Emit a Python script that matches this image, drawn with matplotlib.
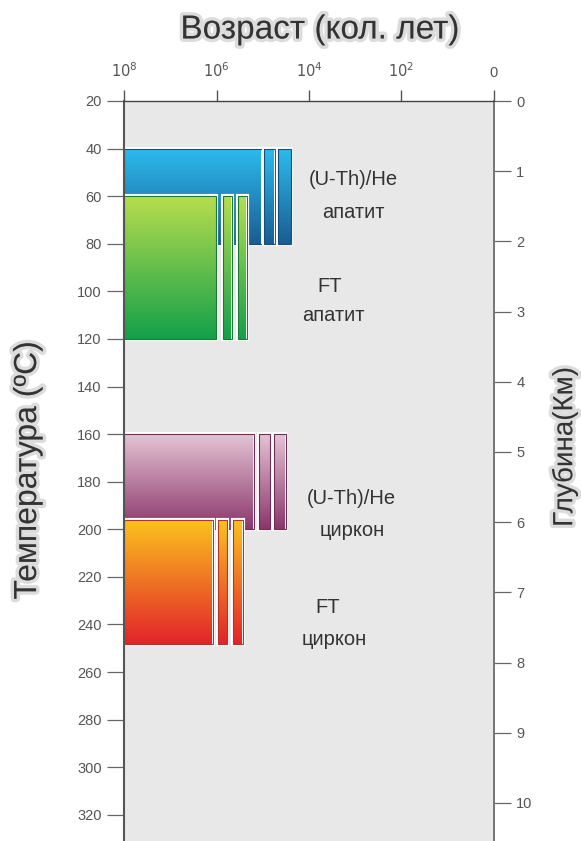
import numpy as np
import matplotlib
matplotlib.use("Agg")
import matplotlib.pyplot as plt
import matplotlib.patheffects as pe
from matplotlib.patches import Rectangle
from matplotlib.colors import LinearSegmentedColormap

# Temperature ranges (degC) of each closure window
temp_ranges = {
    "he_ap": (40, 80),
    "ft_ap": (60, 120),
    "he_zr": (160, 200),
    "ft_zr": (196, 248),
}

# Age ranges (years): main block + two narrow strips
age_ranges = {
    "he_ap": [(1e8, 1.05e5), (9.2e4, 5.4e4), (4.7e4, 2.45e4)],
    "ft_ap": [(1e8, 1.02e6), (7.2e5, 4.6e5), (3.4e5, 2.2e5)],
    "he_zr": [(1e8, 1.55e5), (1.2e5, 6.9e4), (5.75e4, 3.2e4)],
    "ft_zr": [(1e8, 1.2e6), (9.3e5, 5.9e5), (4.4e5, 2.7e5)],
}

# gradient colours top -> bottom
grad_colors = {
    "he_ap": ("#2cbbee", "#1a5d92"),
    "ft_ap": ("#b8dd4e", "#14a04a"),
    "he_zr": ("#e6c4d6", "#8a386a"),
    "ft_zr": ("#fcc21e", "#e2242a"),
}
edge_colors = {"he_ap": "#174f7c", "ft_ap": "#197a3a", "he_zr": "#6e2e55", "ft_zr": "#b0352a"}

# labels (text, age position, temperature)
labels = [
    ("(U-Th)/He", 1.1e3, 53), ("апатит", 1.1e3, 67),
    ("FT", 3.5e3, 98), ("апатит", 2.9e3, 110),
    ("(U-Th)/He", 1.2e3, 187), ("циркон", 1.15e3, 200.5),
    ("FT", 3.9e3, 233), ("циркон", 2.9e3, 246.5),
]

x_ticks = [1e8, 1e6, 1e4, 1e2, 1]
x_tick_labels = ["$10^8$", "$10^6$", "$10^4$", "$10^2$", "0"]
t_ticks = np.arange(20, 321, 20)
depth_ticks = np.arange(0, 11, 1)
surface_temp = 20.0
gradient = 29.5  # degC per km

plt.rcParams["font.family"] = ["Liberation Sans", "DejaVu Sans"]

fig = plt.figure(figsize=(5.81, 8.41), dpi=100)
ax = fig.add_axes([124 / 581, 0.0, 370 / 581, 1 - 101 / 841])
ax.set_facecolor("#e8e8e8")

ax.set_xscale("log")
ax.set_xlim(1e8, 1)
ax.set_ylim(331, 20)

grad = np.linspace(0, 1, 256).reshape(-1, 1)
for key in ["he_ap", "ft_ap", "he_zr", "ft_zr"]:
    t0, t1 = temp_ranges[key]
    cmap = LinearSegmentedColormap.from_list(key, grad_colors[key])
    for old, young in age_ranges[key]:
        # white halo so the overlapping block stands apart
        halo = Rectangle((old, t0), young - old, t1 - t0, facecolor="none",
                         edgecolor="white", lw=3, zorder=2)
        ax.add_patch(halo)
        im = ax.imshow(grad, extent=(old, young, t1, t0), cmap=cmap,
                       aspect="auto", interpolation="bilinear", zorder=2)
        rect = Rectangle((old, t0), young - old, t1 - t0, facecolor="none",
                         edgecolor=edge_colors[key], lw=0.8, zorder=2)
        ax.add_patch(rect)
        im.set_clip_path(rect)

for text, x, y in labels:
    ax.text(x, y, text, ha="center", va="center", fontsize=14.5, color="#333333", zorder=3)

ax.set_xlim(1e8, 1)
ax.set_ylim(331, 20)

# top axis
ax.xaxis.tick_top()
ax.set_xticks(x_ticks)
ax.set_xticklabels(x_tick_labels)
ax.xaxis.set_minor_locator(matplotlib.ticker.NullLocator())
ax.tick_params(axis="x", direction="out", length=8, width=1, color="#555555",
               labelsize=10.5, labelcolor="#555555", pad=7)

ax.set_yticks(t_ticks)
ax.tick_params(axis="y", direction="out", length=12, width=0.9, color="#666666",
               labelsize=10.5, labelcolor="#555555", pad=4)

ax.spines["bottom"].set_visible(False)
ax.spines["left"].set_color("#555555")
ax.spines["left"].set_linewidth(1.5)
ax.spines["right"].set_color("#777777")
ax.spines["right"].set_linewidth(1.3)
ax.spines["top"].set_color("#444444")
ax.spines["top"].set_linewidth(1.0)

# right depth axis
sec = ax.secondary_yaxis("right", functions=(lambda t: (t - surface_temp) / gradient,
                                              lambda d: d * gradient + surface_temp))
sec.set_yticks(depth_ticks)
sec.tick_params(direction="out", length=12, width=0.9, color="#666666",
                labelsize=10.5, labelcolor="#555555", pad=4)
sec.spines["right"].set_color("#777777")
sec.spines["right"].set_linewidth(1.3)

glow = [pe.withStroke(linewidth=5, foreground="#bbbbbb", alpha=0.5)]
fig.text(320 / 581, 1 - 30 / 841, "Возраст (кол. лет)", ha="center", va="center",
         fontsize=24, color="#333333", path_effects=glow)
fig.text(28 / 581, 1 - 470 / 841, "Температура (ºС)", ha="center", va="center",
         rotation=90, fontsize=23, color="#333333", path_effects=glow)
fig.text(565 / 581, 1 - 447 / 841, "Глубина(Км)", ha="center", va="center",
         rotation=90, fontsize=20, color="#333333", path_effects=glow)

fig.savefig("out.png", dpi=100)
